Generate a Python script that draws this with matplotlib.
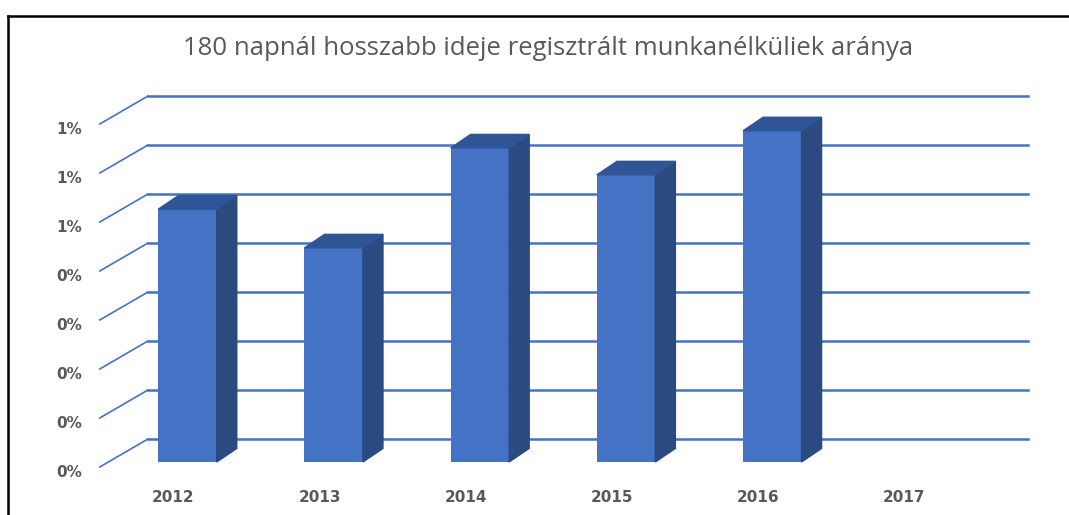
import numpy as np
import matplotlib
matplotlib.use('Agg')
import matplotlib.pyplot as plt
from matplotlib.patches import Polygon
from matplotlib.lines import Line2D

# data
years = ['2012', '2013', '2014', '2015', '2016', '2017']
values = [0.516, 0.437, 0.641, 0.586, 0.676, np.nan]   # percent
yticks = [0.0, 0.1, 0.2, 0.3, 0.4, 0.5, 0.6, 0.7]
ytick_labels = ['0%', '0%', '0%', '0%', '0%', '1%', '1%', '1%']
title = '180 napnál hosszabb ideje regisztrált munkanélküliek aránya'

# 3d look (in data units)
bar_w = 0.40
depth_x, depth_y = 0.137, 0.0276        # bar top/side offset
wall_dy = 0.047                          # back wall vs bar front
wall_x0, wall_x1 = -0.27, 5.75
floor_x0, floor_dy = -0.60, -0.0102      # front end of depth lines

front_c = '#4472C4'
top_c = '#2F5597'
side_c = '#2A4A80'
grid_c = '#4472C4'
text_c = '#595959'

plt.rcParams['font.family'] = ['Open Sans', 'DejaVu Sans']

fig = plt.figure(figsize=(10.69, 5.15), dpi=100)
ax = fig.add_axes([0, 0, 1, 1])
ax.set_xlim(-1.2825, 6.0294)
ax.set_ylim(-0.1082, 0.9429)
ax.axis('off')

# back wall gridlines + depth lines + tick labels
for v, lab in zip(yticks, ytick_labels):
    yb = v + wall_dy
    ax.plot([wall_x0, wall_x1], [yb, yb], color=grid_c, lw=1.8, zorder=1)
    ax.plot([floor_x0, wall_x0], [v + floor_dy, yb], color=grid_c, lw=1.2, zorder=1)
    ax.text(floor_x0 - 0.12, v + floor_dy - 0.012, lab, ha='right', va='center',
            fontsize=11, fontweight='bold', color=text_c, family='DejaVu Sans')

# bars
x = np.arange(len(years))
ax.bar(x, values, width=bar_w, color=front_c, zorder=3)
for xi, v in zip(x, values):
    if np.isnan(v):
        continue
    l, r = xi - bar_w / 2, xi + bar_w / 2
    side = [(r, 0), (r, v), (r + depth_x, v + depth_y), (r + depth_x, depth_y)]
    top = [(l, v), (r, v), (r + depth_x, v + depth_y), (l + depth_x, v + depth_y)]
    ax.add_patch(Polygon(side, closed=True, color=side_c, zorder=3))
    ax.add_patch(Polygon(top, closed=True, color=top_c, zorder=3))

# category labels
for xi, lab in zip(x, years):
    ax.text(xi - 0.096, -0.073, lab, ha='center', va='center',
            fontsize=11, fontweight='bold', color=text_c, family='DejaVu Sans')

fig.text(0.513, 0.906, title, ha='center', va='center', fontsize=18.5,
         color=text_c)

# outer frame (top and left)
fig.add_artist(Line2D([8 / 1069, 1], [1 - 16 / 515, 1 - 16 / 515],
                      color='black', lw=1.8, transform=fig.transFigure))
fig.add_artist(Line2D([8 / 1069, 8 / 1069], [0, 1 - 16 / 515],
                      color='black', lw=1.8, transform=fig.transFigure))

fig.savefig('out.png', dpi=100)
